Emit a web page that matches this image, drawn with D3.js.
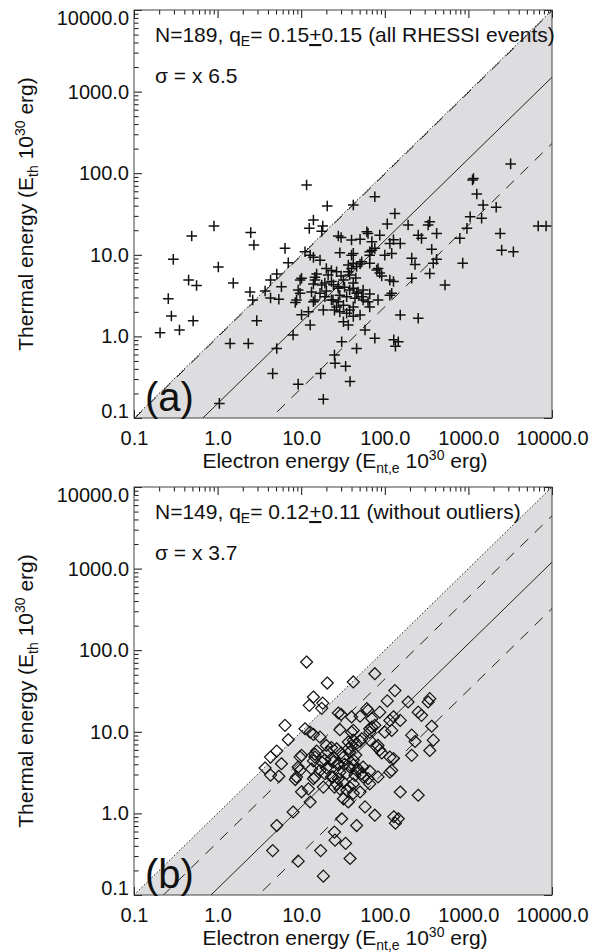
<!DOCTYPE html>
<html>
<head>
<meta charset="utf-8">
<script src="https://cdn.jsdelivr.net/npm/d3@7"></script>
<style>
body { margin: 0; background: #fff; }
text { font-family: "Liberation Sans", Arial, Helvetica, sans-serif; fill: #111; }
</style>
</head>
<body>
<script>
// Axis ticks (same on both axes, both panels)
const tickValues = [0.1, 1, 10, 100, 1000, 10000];
const tickLabels = ["0.1", "1.0", "10.0", "100.0", "1000.0", "10000.0"];

// Panel info
const panelNames = ["(a)", "(b)"];
const counts = [189, 149];
const qValues = [0.15, 0.12];
const qErrors = [0.15, 0.11];
const sigmaValues = [6.5, 3.7];
const notes = ["all RHESSI events", "without outliers"];

// Events [E_nt,e, E_th] in 1e30 erg
// events kept in panel (b)
const eventsKept = [
  [11.6,71.6],[20.5,39.6],[14,26.7],[12.5,21.1],[18.1,22.5],[17.6,19.4],[6.4,12.0],[27.8,17.0],[30,16.3],
  [76,51.5],[42,40.8],[132,32],[107,23.9],[190,23.2],[330,23.2],[345,25.5],[87,17.4],[61,19.2],
  [40,15.2],[50.6,15.5],[70,14.5],[70,11.4],[115,13.8],[153,13.8],[127,15.3],[251,17.4],[275,15.9],[364,11.7],
  [63,18.3],[76,12.0],[11.1,10.9],[29,10.6],[42,10.4],[66,10.9],[121,10.4],
  [12.8,9.9],[14,9.3],[7.0,8.0],[16.8,8.6],[40,9.9],[66,9.9],[100,9.9],[210,9.1],[230,7.6],[380,7.9],
  [36.6,7.5],[42,7.9],[50.6,7.7],[46,7.2],[66,7.9],[53,8.2],[20,6.8],[23,6.4],[21,5.65],[15.3,5.8],
  [14.6,5.3],[10.1,5.15],[26.5,6.2],[36.6,6.2],[38,5.65],[80,6.5],[87,6.0],[92,5.5],[83,6.8],[345,5.9],
  [210,5.15],[4.3,4.9],[5.1,5.8],[14.6,4.9],[23,4.7],[32,4.9],[42,4.5],[115,4.9],[127,4.7],[9.7,4.9],
  [19.2,4.5],[14,4.4],[5.8,4.06],[17.6,4.26],[24.3,4.3],[27.8,4.1],[40,6.8],[30,5.5],[45,5.2],[20,3.6],
  [3.7,3.6],[9.2,3.7],[9.7,3.37],[13.3,3.5],[27.8,3.9],[33,4.0],[38,3.7],[42,3.9],[48,3.5],[55,3.7],
  [66,3.3],[121,3.37],[4.3,2.95],[5.4,2.85],[8.8,2.8],[8.5,2.6],[19.2,3.07],[23,2.8],[29,3.2],[35,3.07],
  [44,2.93],[53,3.07],[83,2.8],[63,2.66],[14,2.66],[27.8,2.66],[16.8,3.37],[14.6,2.8],[24,2.8],[46,3.37],
  [115,3.2],[55,2.8],[12.2,2.0],[10.1,1.84],[25,2.1],[29,2.0],[35,1.92],[38,2.1],[42,2.3],[66,2.3],
  [26.5,2.3],[32,2.4],[50.6,1.83],[18.4,2.1],[12.8,1.38],[32,1.51],[36.6,1.38],[42,1.76],[153,1.83],[251,1.67],
  [8.0,1.04],[5.1,0.71],[76,0.95],[128,0.91],[145,0.86],[134,0.76],[58,1.2],[25,0.59],[46,0.71],[30.5,0.86],
  [4.56,0.35],[9.2,0.26],[18.4,0.17],[17.1,0.35],[25.4,0.47],[34,0.43],[38.4,0.28]
];
// outliers, shown only in panel (a)
const eventsOutliers = [
  [0.905,22.5],[0.49,17.0],[2.49,18.7],[2.72,13.2],[0.295,8.8],[1.02,7.1],[0.45,4.9],[0.56,4.2],
  [1.54,4.5],[2.44,3.5],[2.63,2.79],[0.257,2.9],[0.28,1.78],[0.51,1.55],[0.205,1.11],[0.35,1.2],
  [1.41,0.82],[2.33,0.82],[2.94,1.56],[1.05,0.151],
  [417,18.3],[417,8.8],[525,4.26],[855,7.9],[790,15.9],[960,21.1],[1050,29.3],[1440,28],[1500,40.8],
  [2150,38.2],[1260,55.6],[1120,82.6],[1150,86],[3200,130],[2400,18.3],[2500,11.4],[3450,10.9],
  [6840,22.5],[8500,22.5]
];

const width = 615, height = 952;
const left = 134, right = 552, plotH = 408;
const panelTops = [10, 487];

const svg = d3.select("body").append("svg")
  .attr("width", width)
  .attr("height", height);

function drawPanel(i, points, markerPath) {
  const top = panelTops[i];
  const bottom = top + plotH;

  const x = d3.scaleLog().domain([0.1, 10000]).range([left, right]);
  const y = d3.scaleLog().domain([0.1, 10000]).range([bottom, top]);
  const minorX = x.ticks().filter(d => !tickValues.some(t => Math.abs(t - d) / t < 1e-6));
  const minorY = y.ticks().filter(d => !tickValues.some(t => Math.abs(t - d) / t < 1e-6));

  const g = svg.append("g");
  g.append("clipPath").attr("id", "clip" + i)
    .append("rect")
    .attr("x", left).attr("y", top)
    .attr("width", right - left).attr("height", plotH);

  // ticks, all pointing inward
  function styleAxis(sel) {
    sel.attr("color", "#111").attr("font-family", null).attr("font-size", 20);
    sel.select(".domain").remove();
  }
  // left
  g.append("g").attr("transform", "translate(" + left + ",0)")
    .call(d3.axisLeft(y).tickValues(tickValues).tickSize(-8).tickPadding(5)
      .tickFormat((d, j) => tickLabels[j]))
    .call(styleAxis)
    .selectAll("text")
    .attr("dy", d => d === 10000 ? "14px" : d === 0.1 ? "-1px" : "0.32em");
  g.append("g").attr("transform", "translate(" + left + ",0)")
    .call(d3.axisLeft(y).tickValues(minorY).tickSize(-4.5).tickFormat(""))
    .call(styleAxis);
  // bottom
  g.append("g").attr("transform", "translate(0," + bottom + ")")
    .call(d3.axisBottom(x).tickValues(tickValues).tickSize(-8).tickPadding(13)
      .tickFormat((d, j) => tickLabels[j]))
    .call(styleAxis);
  g.append("g").attr("transform", "translate(0," + bottom + ")")
    .call(d3.axisBottom(x).tickValues(minorX).tickSize(-4.5).tickFormat(""))
    .call(styleAxis);
  // top
  g.append("g").attr("transform", "translate(0," + top + ")")
    .call(d3.axisTop(x).tickValues(tickValues).tickSize(-8).tickFormat(""))
    .call(styleAxis);
  g.append("g").attr("transform", "translate(0," + top + ")")
    .call(d3.axisTop(x).tickValues(minorX).tickSize(-4.5).tickFormat(""))
    .call(styleAxis);
  // right
  g.append("g").attr("transform", "translate(" + right + ",0)")
    .call(d3.axisRight(y).tickValues(tickValues).tickSize(-8).tickFormat(""))
    .call(styleAxis);
  g.append("g").attr("transform", "translate(" + right + ",0)")
    .call(d3.axisRight(y).tickValues(minorY).tickSize(-4.5).tickFormat(""))
    .call(styleAxis);

  // shaded region E_th < E_nt
  const area = [[0.1, 0.1], [10000, 10000], [10000, 0.1]];
  g.append("path")
    .attr("d", "M" + area.map(d => x(d[0]) + "," + y(d[1])).join("L") + "Z")
    .attr("fill", "#dddddf");

  // ratio lines
  const q = qValues[i], s = sigmaValues[i];
  const lines = [
    { ratio: 1, dash: "1.5,2" },
    { ratio: q * s, dash: "11,9" },
    { ratio: q, dash: null },
    { ratio: q / s, dash: "11,9" }
  ];
  const lineGen = d3.line().x(d => x(d[0])).y(d => y(d[1]));
  lines.forEach(l => {
    g.append("path")
      .attr("clip-path", "url(#clip" + i + ")")
      .attr("d", lineGen([[0.1, 0.1 * l.ratio], [10000, 10000 * l.ratio]]))
      .attr("fill", "none")
      .attr("stroke", "#222")
      .attr("stroke-width", 1)
      .attr("stroke-dasharray", l.dash);
  });

  // frame
  g.append("rect")
    .attr("x", left).attr("y", top)
    .attr("width", right - left).attr("height", plotH)
    .attr("fill", "none").attr("stroke", "#444").attr("stroke-width", 1);

  // events
  g.append("g")
    .selectAll("path")
    .data(points).enter()
    .append("path")
    .attr("transform", d => "translate(" + x(d[0]) + "," + y(d[1]) + ")")
    .attr("d", markerPath)
    .attr("fill", "none")
    .attr("stroke", "#111")
    .attr("stroke-width", i === 0 ? 1.5 : 1.2);

  // annotations
  const t = g.append("text").attr("x", 155).attr("y", top + 32).attr("font-size", 21);
  t.append("tspan").text("N=" + counts[i] + ", q");
  t.append("tspan").attr("font-size", 14).attr("dy", 4).text("E");
  t.append("tspan").attr("dy", -4).text("= " + qValues[i].toFixed(2));
  t.append("tspan").attr("text-decoration", "underline").text("+");
  t.append("tspan").text(qErrors[i].toFixed(2) + " (" + notes[i] + ")");

  g.append("text").attr("x", 155).attr("y", top + 73).attr("font-size", 21)
    .text("\u03c3 = x " + sigmaValues[i]);

  g.append("text").attr("x", 145).attr("y", bottom - 7).attr("font-size", 40)
    .text(panelNames[i]);

  // axis titles
  const xt = g.append("text").attr("x", (left + right) / 2 + 2).attr("y", bottom + 50)
    .attr("text-anchor", "middle").attr("font-size", 21);
  xt.append("tspan").text("Electron energy (E");
  xt.append("tspan").attr("font-size", 14).attr("dy", 5).text("nt,e");
  xt.append("tspan").attr("dy", -5).text(" 10");
  xt.append("tspan").attr("font-size", 14).attr("dy", -8).text("30");
  xt.append("tspan").attr("dy", 8).text(" erg)");

  const yt = g.append("text")
    .attr("transform", "translate(33," + (top + bottom) / 2 + ") rotate(-90)")
    .attr("text-anchor", "middle").attr("font-size", 21);
  yt.append("tspan").text("Thermal energy (E");
  yt.append("tspan").attr("font-size", 14).attr("dy", 5).text("th");
  yt.append("tspan").attr("dy", -5).text(" 10");
  yt.append("tspan").attr("font-size", 14).attr("dy", -8).text("30");
  yt.append("tspan").attr("dy", 8).text(" erg)");
}

drawPanel(0, eventsKept.concat(eventsOutliers), "M-5.3,0H5.3M0,-5.3V5.3");
drawPanel(1, eventsKept, "M0,-6L6,0L0,6L-6,0Z");
</script>
</body>
</html>
